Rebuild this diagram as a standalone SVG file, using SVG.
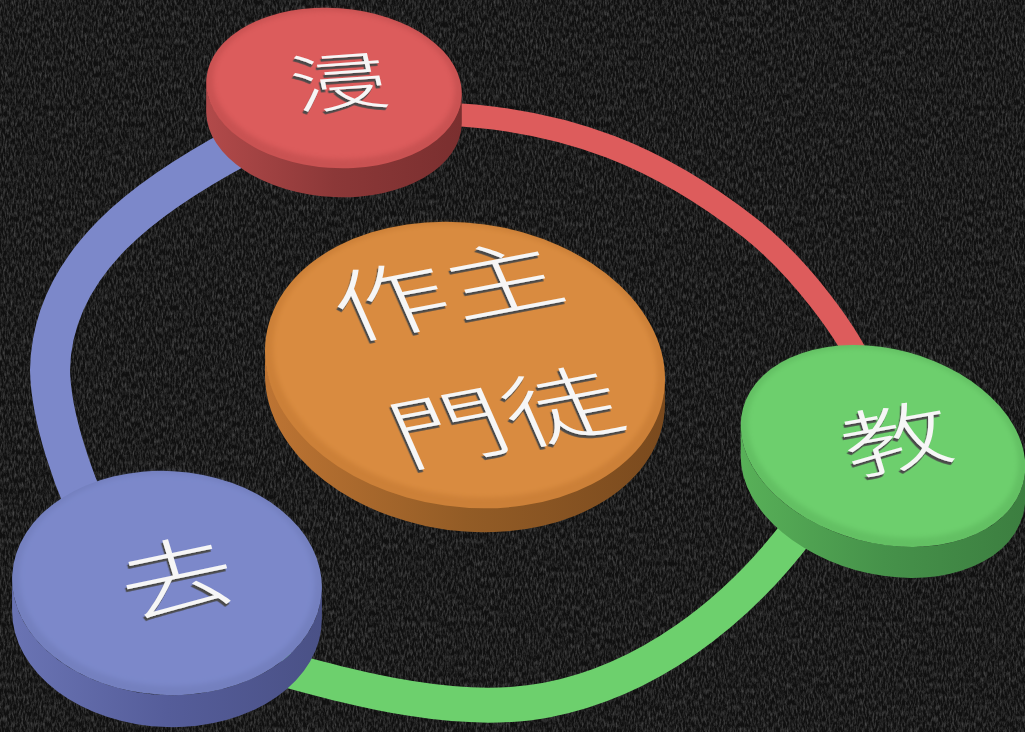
<svg xmlns="http://www.w3.org/2000/svg" width="1025" height="732" viewBox="0 0 1025 732">
<style>
.ring{fill:none;stroke-linecap:butt}
.lbl{font-family:"Noto Sans CJK TC","Noto Sans CJK SC","Noto Sans",sans-serif;font-weight:300;fill:#f6f6f6;text-anchor:middle;dominant-baseline:central}
</style>
<defs>
<filter id="grain" x="0" y="0" width="100%" height="100%">
<feTurbulence type="fractalNoise" baseFrequency="0.55 0.18" numOctaves="4" seed="7"/>
<feColorMatrix type="matrix" values="0 0 0 0 1  0 0 0 0 1  0 0 0 0 1  0.45 0 0 0 -0.17"/>
</filter>
<filter id="emboss" x="-20%" y="-20%" width="140%" height="140%">
<feDropShadow dx="-1.3" dy="2.8" stdDeviation="0.4" flood-color="#4a4a4a" flood-opacity="1"/>
</filter>
<filter id="soft" x="-10%" y="-10%" width="120%" height="120%"><feGaussianBlur stdDeviation="2.5"/></filter>
<linearGradient id="sideR" x1="0" y1="0" x2="1" y2="0"><stop offset="0" stop-color="#b24a4a"/><stop offset="0.5" stop-color="#8c3838"/><stop offset="1" stop-color="#7a2f2f"/></linearGradient>
<linearGradient id="sideO" x1="0" y1="0" x2="1" y2="0"><stop offset="0" stop-color="#bd7433"/><stop offset="0.5" stop-color="#935c26"/><stop offset="1" stop-color="#7a4a1e"/></linearGradient>
<linearGradient id="sideG" x1="0" y1="0" x2="1" y2="0"><stop offset="0" stop-color="#58b058"/><stop offset="0.5" stop-color="#46924a"/><stop offset="1" stop-color="#3c7e40"/></linearGradient>
<linearGradient id="sideB" x1="0" y1="0" x2="1" y2="0"><stop offset="0" stop-color="#6a74b4"/><stop offset="0.5" stop-color="#555d9a"/><stop offset="1" stop-color="#4a5186"/></linearGradient>
</defs>

<rect width="1025" height="732" fill="#101010"/>
<rect width="1025" height="732" fill="#fff" filter="url(#grain)"/>

<g id="connectors">
<path class="ring" stroke="#7c88ca" stroke-width="40" d="M240,146 C152,193 52,260 50,370 C51,420 75,484 92,520"/>
<path class="ring" stroke="#dd5c5c" stroke-width="23" d="M440,114 C570,118 663,160 750,228 C797,265 850.5,333 868,380"/>
<path class="ring" stroke="#6dd06d" stroke-width="35" d="M800,528 C734,616 645,681 547,700 C459,717 357,689 280,668"/>
</g>

<g id="node-jin">
<path fill="url(#sideR)" d="M206.2,82.55 L206.2,112.55 A128 80 4 0 0 461.8,123.45 L461.8,93.45 A128 80 4 0 1 206.2,82.55Z"/>
<ellipse cx="334" cy="88" rx="128" ry="80" transform="rotate(4 334 88)" fill="#c95252"/>
<ellipse cx="334" cy="85" rx="121" ry="74" transform="rotate(4 334 85)" fill="#dc5c5c" filter="url(#soft)"/>
<g filter="url(#emboss)"><text class="lbl" font-size="96" transform="translate(338 78) matrix(1 -0.07 0.15 0.66 0 0)">浸</text></g>
</g>

<g id="node-center">
<path fill="url(#sideO)" d="M265,351.05 L265,377.05 A201 142 8 0 0 665,404.95 L665,378.95 A201 142 8 0 1 265,351.05Z"/>
<ellipse cx="465" cy="365" rx="201" ry="142" transform="rotate(8 465 365)" fill="#cc8038"/>
<ellipse cx="465" cy="361" rx="193" ry="135" transform="rotate(8 465 361)" fill="#d98b3f" filter="url(#soft)"/>
<g filter="url(#emboss)">
<text class="lbl" font-size="112" transform="translate(444 285) matrix(1 -0.19 0.3 0.68 0 0)">作主</text>
<text class="lbl" font-size="112" transform="translate(503 412) matrix(1 -0.19 0.3 0.68 0 0)">門徒</text>
</g>
</g>

<g id="node-jiao">
<path fill="url(#sideG)" d="M740.7,425.6 L740.7,456.6 A145 97 15 0 0 1025.3,497.4 L1025.3,466.4 A145 97 15 0 1 740.7,425.6Z"/>
<ellipse cx="883" cy="446" rx="145" ry="97" transform="rotate(15 883 446)" fill="#63c063"/>
<ellipse cx="883" cy="443" rx="138" ry="91" transform="rotate(15 883 443)" fill="#6dcf6d" filter="url(#soft)"/>
<g filter="url(#emboss)"><text class="lbl" font-size="108" transform="translate(895 434) matrix(1 -0.18 0.2 0.66 0 0)">教</text></g>
</g>

<g id="node-qu">
<path fill="url(#sideB)" d="M12.1,579.13 L12.1,611.13 A155 112 3 0 0 321.9,618.87 L321.9,586.87 A155 112 3 0 1 12.1,579.13Z"/>
<ellipse cx="167" cy="583" rx="155" ry="112" transform="rotate(3 167 583)" fill="#7480bf"/>
<ellipse cx="167" cy="580" rx="148" ry="106" transform="rotate(3 167 580)" fill="#7c88ca" filter="url(#soft)"/>
<g filter="url(#emboss)"><text class="lbl" font-size="112" transform="translate(175 572) matrix(1 -0.21 0.22 0.72 0 0)">去</text></g>
</g>
</svg>
